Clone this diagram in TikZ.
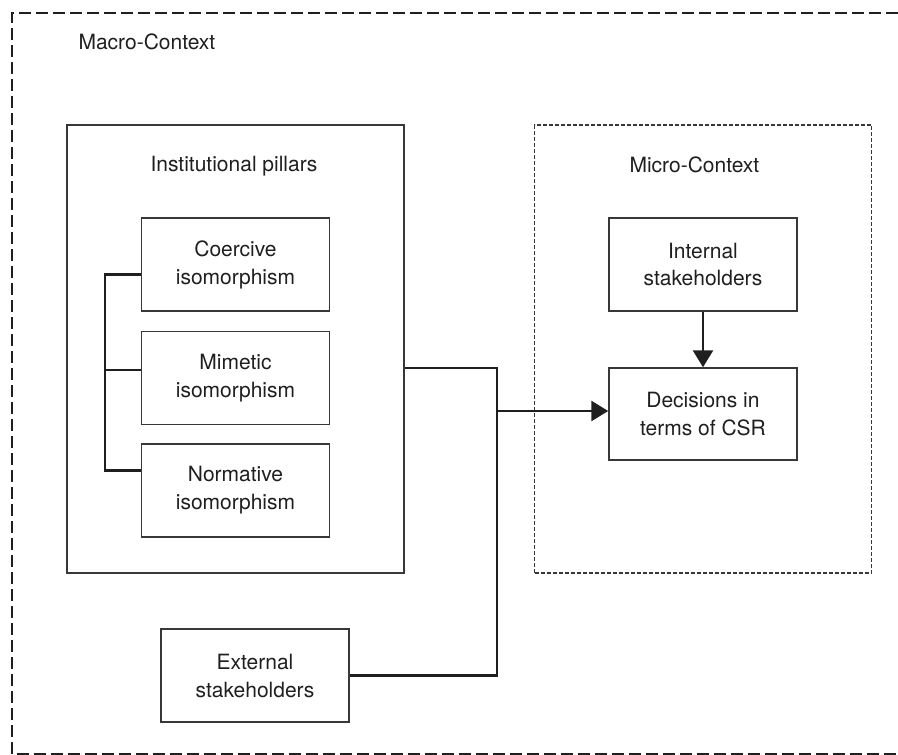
\documentclass[tikz,border=0pt]{standalone}
\usepackage{fontspec}
\setmainfont{TeX Gyre Heros}
\usetikzlibrary{positioning}
\usetikzlibrary{arrows.meta}

\begin{document}
\begin{tikzpicture}
    [
    x=1pt, y=-1pt,
    every node/.style={font=\fontsize{21}{28}\selectfont, text=black!88},
    frame/.style={draw=black!78, line width=1.5pt, minimum width=337pt, minimum height=448pt, inner sep=0pt},
    box/.style={draw=black!78, line width=1.5pt, minimum width=188pt, minimum height=93pt, align=center, inner sep=0pt},
    link/.style={draw=black!88, line width=2.8pt},
    tip/.style={-{Triangle[length=17pt,width=20pt]}},
    ]
    \useasboundingbox (0,0) rectangle (898,755);
    % the frame runs on past the right edge
    \draw [black!88, line width=2.6pt, dash pattern=on 12pt off 5pt] (898,13) -- (12,13) -- (12,754) -- (898,754);
    \node (macro) at (75,49) [anchor=base west] {Macro-Context};

    \node (inst) at (235.5,349) [frame] {};
    \node (instlabel) at (147,171) [anchor=base west] {Institutional pillars};
    \node (coer) at (235.5,264.5) [box] {Coercive\\isomorphism};
    \node (mime) [box, below=19pt of coer] {Mimetic\\isomorphism};
    \node (norm) [box, below=18pt of mime] {Normative\\isomorphism};

    \node (micro) at (703,349) [frame, dash pattern=on 4pt off 2pt] {};
    \node (microlabel) at (626,172) [anchor=base west] {Micro-Context};
    \node (intl) at (703,264.5) [box] {Internal\\stakeholders};
    \node (dec) at (703,414) [box, minimum height=92pt] {Decisions in\\terms of CSR};
    \node (ext) at (255,675.5) [box] {External\\stakeholders};

    \coordinate (spine) at (105,370);
    \draw [link] ([yshift=-10pt]coer.west) -| ([yshift=20pt]spine |- norm.west) -- ([yshift=20pt]norm.west);
    \draw [link] (mime.west |- spine) -- (spine);

    \coordinate (join) at (497,368);
    \coordinate (turn) at (497,411);
    \draw [link] (inst.east |- join) -- (join) -- (join |- ext.east) -- (ext.east);
    \draw [link, tip] (turn) -- (turn -| dec.west);
    \draw [link, tip] (intl) -- (dec);
\end{tikzpicture}
\end{document}
